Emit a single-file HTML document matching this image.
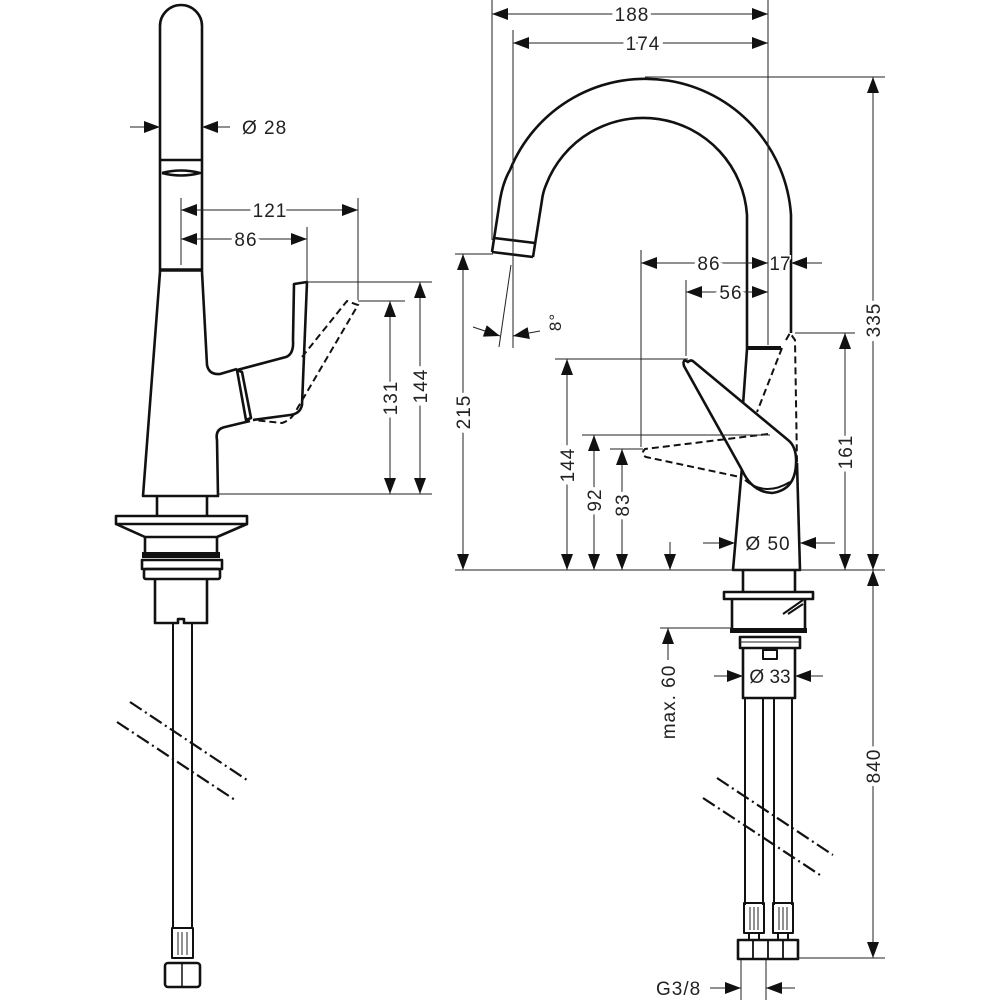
<!DOCTYPE html>
<html><head><meta charset="utf-8"><style>
html,body{margin:0;padding:0;background:#fff;}
svg{display:block;}
text{font-family:"Liberation Sans",sans-serif;font-size:19px;letter-spacing:1px;fill:#222;stroke:#fff;stroke-width:8px;paint-order:stroke;}
.t{stroke:#222;stroke-width:1;fill:none;}
.k{stroke:#111;stroke-width:2.6;fill:none;stroke-linejoin:round;}
.d{stroke:#111;stroke-width:2;fill:none;stroke-dasharray:7 4;}
.b{stroke:#111;stroke-width:2.2;fill:none;stroke-dasharray:14 4 2 4;}
</style></head><body>
<svg width="1000" height="1000" viewBox="0 0 1000 1000" xmlns="http://www.w3.org/2000/svg">
<defs>
<marker id="a" viewBox="0 0 16 12" refX="16" refY="6" markerWidth="17" markerHeight="12" markerUnits="userSpaceOnUse" orient="auto-start-reverse"><path d="M0,0 L16,6 L0,12 Z" fill="#111"/></marker>
</defs>

<!-- ============ LEFT VIEW ============ -->
<path class="k" d="M160,272 L160,26 A21,21 0 0 1 202,26 L202,272"/>
<line class="k" x1="160" y1="160" x2="202" y2="160"/>
<path class="k" d="M162,173 Q181,168 200,173 Q181,178 162,173"/>
<line class="k" x1="160" y1="270" x2="202" y2="270" style="stroke-width:3.5"/>
<path class="k" d="M160,272 L143,496 L218,496 L217,440 Q215,429 225,427 L250,421"/>
<path class="k" d="M202,272 L207,365 Q209,375 220,374 L237,369"/>
<path class="k" d="M237,370 L286,357 Q294,354 293,340 L294,284 L307,282 L302,405 Q300,414 290,415 L253,420"/>
<path class="k" d="M237,370 L242,372 L251,418 L246,420 Z"/>
<path class="d" d="M302,357 L347,301 L358,305 L297,409 Q292,420 282,423 L253,420"/>
<line class="t" x1="130" y1="127" x2="160" y2="127" marker-end="url(#a)"/>
<line class="t" x1="230" y1="127" x2="202" y2="127" marker-end="url(#a)"/>
<text x="242" y="134">Ø 28</text>
<line class="t" x1="181" y1="198" x2="181" y2="265"/>
<line class="t" x1="358" y1="198" x2="358" y2="300"/>
<line class="t" x1="307" y1="227" x2="307" y2="282"/>
<line class="t" x1="181" y1="210" x2="358" y2="210" marker-start="url(#a)" marker-end="url(#a)"/>
<text x="270" y="217" text-anchor="middle">121</text>
<line class="t" x1="181" y1="239" x2="307" y2="239" marker-start="url(#a)" marker-end="url(#a)"/>
<text x="246" y="246" text-anchor="middle">86</text>
<line class="t" x1="307" y1="282" x2="432" y2="282"/>
<line class="t" x1="358" y1="301" x2="405" y2="301"/>
<line class="t" x1="218" y1="494" x2="432" y2="494"/>
<line class="t" x1="390" y1="301" x2="390" y2="494" marker-start="url(#a)" marker-end="url(#a)"/>
<line class="t" x1="420" y1="282" x2="420" y2="494" marker-start="url(#a)" marker-end="url(#a)"/>
<text transform="translate(397,398) rotate(-90)" text-anchor="middle">131</text>
<text transform="translate(427,386) rotate(-90)" text-anchor="middle">144</text>
<path class="k" d="M157,496 L157,516 M207,496 L207,516"/>
<rect class="k" x="116" y="516" width="131" height="8"/>
<path class="k" d="M116,524 L145,537 L145,552 M247,524 L217,537 L217,552 M145,537 L217,537"/>
<rect x="142" y="552" width="78" height="6" fill="#111"/>
<rect class="k" x="142" y="560" width="80" height="9"/>
<rect class="k" x="144" y="569" width="76" height="10" rx="2"/>
<path class="k" d="M155,579 L155,623 L178,623 L178,619 L184,619 L184,623 L207,623 L207,579"/>
<path class="k" style="stroke-width:2" d="M173,623 L173,928 M192,623 L192,928"/>
<rect class="k" style="stroke-width:2" x="172" y="928" width="21" height="30"/>
<path class="t" d="M178,932 L178,955 M182,932 L182,955 M187,932 L187,955"/>
<rect class="k" x="165" y="963" width="35" height="24" rx="3"/>
<line class="k" style="stroke-width:1.5" x1="182" y1="963" x2="182" y2="987"/>
<line class="b" x1="130" y1="702" x2="247" y2="780"/>
<line class="b" x1="117" y1="722" x2="235" y2="800"/>

<!-- ============ RIGHT VIEW ============ -->
<path class="k" d="M492,252 L500,200 Q503,182 510,170 A146,146 0 0 1 791,215 L791,333"/>
<path class="k" d="M533,257 L542,200 Q543,192 546,185 A104,104 0 0 1 747,215 L747,349"/>
<path class="k" d="M492,252 L533,257 M494,238 L535,243"/>
<line class="k" x1="747" y1="348" x2="781" y2="348" style="stroke-width:4"/>
<path class="k" d="M747,349 L743,405"/>
<path class="k" d="M742,467 L733,570 L800,570 L797,463"/>
<path class="d" d="M782,348 L757,412 M786,340 L790,333 L795,340 L797,463"/>
<path class="k" d="M688,362 Q682,358 684,366 L742,470 Q752,492 772,493 Q795,490 796,464 Q797,447 788,440 L694,362 Q691,359 688,362 Z" style="fill:#fff"/>
<path class="k" style="stroke-width:2" d="M745,480 Q765,497 790,482"/>
<path class="d" d="M768,434 L645,449 Q640,454 646,457 L740,477"/>
<line class="t" x1="492" y1="0" x2="492" y2="240"/>
<line class="t" x1="768" y1="0" x2="768" y2="345"/>
<line class="t" x1="513" y1="30" x2="513" y2="348"/>
<line class="t" x1="492" y1="14" x2="768" y2="14" marker-start="url(#a)" marker-end="url(#a)"/>
<text x="632" y="21" text-anchor="middle">188</text>
<line class="t" x1="513" y1="43" x2="768" y2="43" marker-start="url(#a)" marker-end="url(#a)"/>
<text x="643" y="50" text-anchor="middle">174</text>
<line class="t" x1="511" y1="265" x2="499" y2="347"/>
<line class="t" x1="473" y1="327" x2="500" y2="336" marker-end="url(#a)"/>
<line class="t" x1="540" y1="331" x2="513" y2="336" marker-end="url(#a)"/>
<text transform="translate(561,322) rotate(-90)" text-anchor="middle" style="font-size:17px">8°</text>
<line class="t" x1="641" y1="250" x2="641" y2="447"/>
<line class="t" x1="686" y1="280" x2="686" y2="356"/>
<line class="t" x1="641" y1="263" x2="768" y2="263" marker-start="url(#a)" marker-end="url(#a)"/>
<text x="709" y="270" text-anchor="middle">86</text>
<line class="t" x1="822" y1="263" x2="791" y2="263" marker-end="url(#a)"/>
<text x="780" y="270" text-anchor="middle" style="stroke-width:3px;letter-spacing:0">17</text>
<line class="t" x1="686" y1="292" x2="768" y2="292" marker-start="url(#a)" marker-end="url(#a)"/>
<text x="731" y="299" text-anchor="middle">56</text>
<line class="t" x1="455" y1="254" x2="493" y2="254"/>
<line class="t" x1="555" y1="359" x2="688" y2="359"/>
<line class="t" x1="582" y1="435" x2="770" y2="435"/>
<line class="t" x1="610" y1="449" x2="643" y2="449"/>
<line class="t" x1="795" y1="333" x2="855" y2="333"/>
<line class="t" x1="645" y1="77" x2="885" y2="77"/>
<line class="t" x1="455" y1="570" x2="885" y2="570"/>
<line class="t" x1="463" y1="254" x2="463" y2="570" marker-start="url(#a)" marker-end="url(#a)"/>
<text transform="translate(470,412) rotate(-90)" text-anchor="middle">215</text>
<line class="t" x1="567" y1="359" x2="567" y2="570" marker-start="url(#a)" marker-end="url(#a)"/>
<text transform="translate(574,465) rotate(-90)" text-anchor="middle">144</text>
<line class="t" x1="594" y1="435" x2="594" y2="570" marker-start="url(#a)" marker-end="url(#a)"/>
<text transform="translate(601,500) rotate(-90)" text-anchor="middle">92</text>
<line class="t" x1="622" y1="449" x2="622" y2="570" marker-start="url(#a)" marker-end="url(#a)"/>
<text transform="translate(629,505) rotate(-90)" text-anchor="middle">83</text>
<line class="t" x1="670" y1="542" x2="670" y2="570" marker-end="url(#a)"/>
<line class="t" x1="845" y1="333" x2="845" y2="570" marker-start="url(#a)" marker-end="url(#a)"/>
<text transform="translate(852,452) rotate(-90)" text-anchor="middle">161</text>
<line class="t" x1="873" y1="77" x2="873" y2="570" marker-start="url(#a)" marker-end="url(#a)"/>
<text transform="translate(880,320) rotate(-90)" text-anchor="middle">335</text>
<line class="t" x1="703" y1="543" x2="735" y2="543" marker-end="url(#a)"/>
<line class="t" x1="835" y1="543" x2="800" y2="543" marker-end="url(#a)"/>
<text x="768" y="550" text-anchor="middle" style="stroke-width:3px">Ø 50</text>
<path class="k" d="M743,570 L743,592 M795,570 L795,592"/>
<rect class="k" x="724" y="592" width="89" height="7"/>
<path class="k" d="M732,599 L732,628 M805,599 L805,628"/>
<path class="k" style="stroke-width:2" d="M783,614 L803,600 M788,614 L803,604"/>
<rect x="730" y="628" width="77" height="5" fill="#111"/>
<rect class="k" x="740" y="637" width="60" height="11"/>
<line class="t" x1="740" y1="642" x2="800" y2="642"/>
<rect class="k" x="763" y="650" width="14" height="9" style="stroke-width:2"/>
<path class="k" d="M743,648 L743,698 L795,698 L795,648"/>
<line class="t" x1="714" y1="676" x2="743" y2="676" marker-end="url(#a)"/>
<line class="t" x1="823" y1="676" x2="795" y2="676" marker-end="url(#a)"/>
<text x="770" y="683" text-anchor="middle" style="stroke-width:2px;letter-spacing:0">Ø 33</text>
<path class="k" style="stroke-width:2" d="M745,698 L745,905 M763,698 L763,905 M774,698 L774,905 M792,698 L792,905"/>
<rect class="k" style="stroke-width:2" x="744" y="903" width="20" height="30"/>
<rect class="k" style="stroke-width:2" x="773" y="903" width="20" height="30"/>
<path class="t" d="M750,907 L750,930 M754,907 L754,930 M758,907 L758,930 M779,907 L779,930 M783,907 L783,930 M787,907 L787,930"/>
<path class="k" style="stroke-width:2" d="M749,933 L749,940 M759,933 L759,940 M778,933 L778,940 M788,933 L788,940"/>
<rect class="k" x="738" y="940" width="60" height="19"/>
<path class="k" style="stroke-width:1.8" d="M753,940 L753,959 M768,940 L768,959 M783,940 L783,959"/>
<line class="b" x1="717" y1="778" x2="833" y2="855"/>
<line class="b" x1="703" y1="798" x2="820" y2="875"/>
<line class="t" x1="660" y1="628" x2="732" y2="628"/>
<line class="t" x1="668" y1="660" x2="668" y2="628" marker-end="url(#a)"/>
<text transform="translate(675,702) rotate(-90)" text-anchor="middle">max. 60</text>
<line class="t" x1="797" y1="958" x2="885" y2="958"/>
<line class="t" x1="873" y1="570" x2="873" y2="958" marker-start="url(#a)" marker-end="url(#a)"/>
<text transform="translate(880,766) rotate(-90)" text-anchor="middle">840</text>
<line class="t" x1="741" y1="960" x2="741" y2="1000"/>
<line class="t" x1="766" y1="960" x2="766" y2="1000"/>
<line class="t" x1="710" y1="988" x2="741" y2="988" marker-end="url(#a)"/>
<line class="t" x1="795" y1="988" x2="766" y2="988" marker-end="url(#a)"/>
<text x="656" y="995">G3/8</text>
</svg>
</body></html>
